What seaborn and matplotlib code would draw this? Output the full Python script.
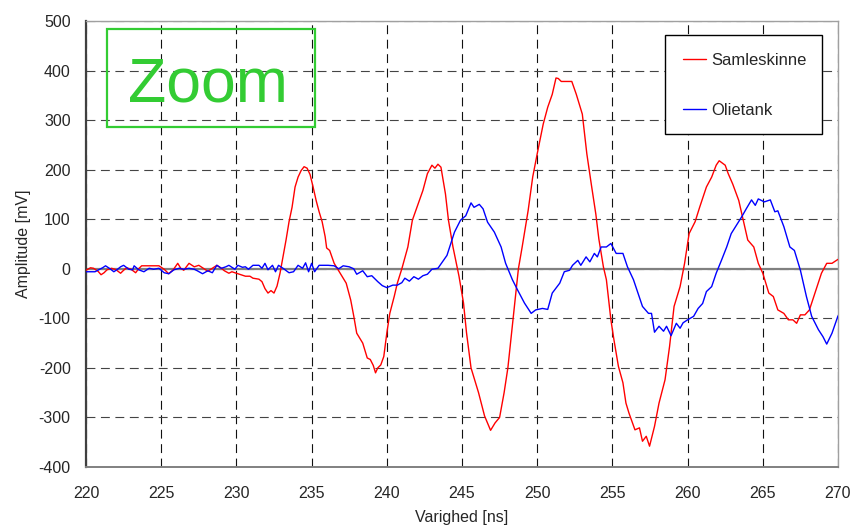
import matplotlib
matplotlib.use("Agg")
import matplotlib.pyplot as plt
import seaborn as sns
import pandas as pd
from matplotlib.patches import Rectangle

# Waveforms: time [ns] and amplitude [mV]
samleskinne_t = [220.0, 220.3, 220.5, 220.8, 221.0, 221.2, 221.4, 221.7, 222.0, 222.3, 222.5, 222.7,
                 223.0, 223.3, 223.5, 223.7, 224.1, 224.5, 224.85, 225.2, 225.5, 225.8, 226.1, 226.3,
                 226.5, 226.85, 227.2, 227.5, 227.85, 228.1, 228.4, 228.7, 229.0, 229.2, 229.5, 229.7,
                 230.0, 230.2, 230.6, 230.9, 231.1, 231.5, 231.7, 231.9, 232.1, 232.3, 232.5, 232.7,
                 232.9, 233.1, 233.3, 233.5, 233.7, 233.9, 234.1, 234.3, 234.5, 234.7, 234.9, 235.1,
                 235.3, 235.5, 235.7, 235.9, 236.0, 236.2, 236.5, 236.9, 237.3, 237.6, 237.8, 238.0,
                 238.4, 238.7, 238.9, 239.1, 239.25, 239.4, 239.6, 239.8, 240.0, 240.2, 240.5, 240.7,
                 241.0, 241.4, 241.7, 242.0, 242.4, 242.7, 243.0, 243.2, 243.4, 243.6, 243.9, 244.1,
                 244.4, 244.8, 245.1, 245.3, 245.6, 246.1, 246.5, 246.9, 247.2, 247.5, 247.8, 248.05,
                 248.4, 248.75, 249.0, 249.4, 249.7, 250.0, 250.4, 250.7, 251.0, 251.25, 251.4, 251.6,
                 252.0, 252.3, 252.6, 253.0, 253.3, 253.6, 253.9, 254.1, 254.4, 254.6, 254.9, 255.1,
                 255.4, 255.7, 255.9, 256.1, 256.5, 256.8, 257.0, 257.25, 257.47, 257.8, 258.1, 258.5,
                 258.8, 259.1, 259.5, 259.8, 260.1, 260.5, 260.8, 261.25, 261.6, 261.9, 262.1, 262.5,
                 262.7, 263.0, 263.4, 263.7, 264.0, 264.4, 264.7, 265.0, 265.4, 265.7, 266.0, 266.4,
                 266.7, 267.0, 267.25, 267.5, 267.8, 268.1, 268.5, 268.9, 269.25, 269.6, 270.0]
samleskinne_v = [-3, 2, 1, -5, -12, -8, -2, 1, -2, -9, -3, 2,
                 -1, -8, 0, 6, 6, 6, 6, -1, -10, -2, 11, 1,
                 -3, 11, 4, 7, 0, -5, 1, 7, 1, -4, -9, -6,
                 -9, -11, -15, -15, -19, -21, -26, -40, -49, -44, -49, -35,
                 -9, 25, 58, 95, 124, 165, 185, 198, 206, 203, 190, 165,
                 138, 115, 95, 65, 42, 37, 11, -9, -29, -63, -95, -130,
                 -150, -180, -183, -195, -210, -200, -194, -177, -130, -90, -55, -29,
                 0, 44, 98, 124, 158, 192, 209, 203, 211, 205, 151, 98,
                 44, -15, -69, -129, -200, -250, -297, -326, -311, -300, -250, -200,
                 -100, 0, 44, 118, 185, 232, 292, 326, 352, 385, 384, 378,
                 378, 378, 352, 312, 232, 170, 110, 60, 4, -22, -103, -143,
                 -197, -230, -271, -291, -325, -321, -348, -338, -358, -318, -271, -224,
                 -157, -76, -36, 11, 71, 95, 124, 165, 185, 209, 218, 209,
                 192, 171, 138, 98, 58, 44, 11, -9, -49, -56, -83, -90,
                 -103, -103, -110, -93, -93, -83, -46, -9, 11, 11, 19]

olietank_t = [220.0, 220.3, 220.6, 220.85, 221.1, 221.3, 221.6, 221.85, 222.1, 222.3, 222.5, 222.85,
              223.1, 223.2, 223.5, 223.85, 224.2, 224.5, 224.85, 225.2, 225.5, 225.85, 226.2, 226.5,
              226.85, 227.2, 227.4, 227.75, 228.1, 228.4, 228.7, 229.0, 229.3, 229.5, 229.9, 230.1,
              230.4, 230.6, 230.8, 231.1, 231.5, 231.7, 231.9, 232.1, 232.4, 232.6, 232.8, 233.1,
              233.5, 233.8, 234.1, 234.4, 234.6, 234.8, 235.0, 235.2, 235.5, 235.8, 236.1, 236.5,
              236.8, 237.1, 237.5, 237.8, 238.0, 238.4, 238.7, 239.0, 239.4, 239.7, 240.0, 240.4,
              240.7, 241.0, 241.2, 241.5, 241.8, 242.1, 242.4, 242.7, 243.0, 243.4, 243.7, 244.0,
              244.2, 244.5, 244.9, 245.25, 245.6, 245.8, 246.15, 246.4, 246.7, 247.15, 247.6, 247.9,
              248.35, 248.7, 249.15, 249.6, 249.9, 250.35, 250.7, 251.0, 251.5, 251.8, 252.15, 252.35,
              252.7, 252.9, 253.25, 253.5, 253.8, 254.0, 254.25, 254.6, 254.9, 255.25, 255.7, 256.0,
              256.4, 256.7, 257.0, 257.4, 257.6, 257.8, 258.1, 258.4, 258.6, 258.9, 259.25, 259.5,
              259.7, 260.0, 260.4, 260.7, 261.0, 261.25, 261.6, 261.9, 262.25, 262.6, 262.9, 263.25,
              263.6, 263.9, 264.25, 264.5, 264.7, 265.1, 265.5, 265.8, 266.0, 266.4, 266.8, 267.1,
              267.5, 267.9, 268.25, 268.7, 269.0, 269.25, 269.6, 270.0]
olietank_v = [-6, -6, -6, -2, 2, 6, 0, -6, -1, 4, 7, -1,
              -2, 6, -2, -6, 1, -1, 1, -8, -10, -2, 1, -1,
              1, -1, -4, -10, -4, -8, 7, 1, 4, 7, -1, 7,
              3, 4, -1, 7, 7, 1, 11, -2, 7, -6, 7, 1,
              -8, -6, 7, 1, 12, -6, 11, -6, 7, 7, 7, 6,
              0, 6, 4, 0, -11, -4, -16, -14, -26, -34, -38, -33,
              -33, -28, -19, -25, -16, -21, -14, -11, -1, 1, 14, 27,
              46, 74, 98, 107, 133, 124, 130, 121, 94, 74, 44, 11,
              -22, -43, -69, -90, -83, -80, -82, -49, -29, -6, -3, 7,
              17, 7, 24, 14, 31, 24, 44, 44, 51, 31, 31, 4,
              -22, -49, -76, -90, -90, -128, -116, -126, -116, -135, -110, -120,
              -109, -103, -96, -80, -70, -46, -36, -9, 17, 44, 71, 88,
              105, 121, 139, 128, 141, 135, 139, 115, 117, 85, 44, 37,
              -3, -56, -96, -123, -137, -152, -130, -95]

series_names = ["Samleskinne", "Olietank"]
series_colors = ["#ff0000", "#0000ff"]
x_ticks = list(range(220, 271, 5))
y_ticks = list(range(-400, 501, 100))

df = pd.concat([
    pd.DataFrame({"t": samleskinne_t, "v": samleskinne_v, "serie": series_names[0]}),
    pd.DataFrame({"t": olietank_t, "v": olietank_v, "serie": series_names[1]}),
], ignore_index=True)

sns.set_style("white")
plt.rcParams["font.family"] = ["Liberation Sans", "DejaVu Sans"]

W, H = 853, 528
fig = plt.figure(figsize=(W / 100, H / 100), dpi=100)
ax = fig.add_axes([86 / W, 1 - 467 / H, 752 / W, 446 / H])

sns.lineplot(data=df, x="t", y="v", hue="serie", hue_order=series_names,
             palette=dict(zip(series_names, series_colors)), estimator=None,
             sort=False, linewidth=1.0, ax=ax, zorder=3)

ax.set_xlim(220, 270)
ax.set_ylim(-400, 500)
ax.set_xticks(x_ticks)
ax.set_yticks(y_ticks)
ax.set_xticklabels([str(v) for v in x_ticks])
ax.set_yticklabels([str(v) for v in y_ticks])

# dashed grid, solid zero line
ax.xaxis.grid(True, linestyle=(0, (8, 5)), color="#111111", linewidth=0.8)
ax.yaxis.grid(True, linestyle=(0, (8, 5)), color="#444444", linewidth=0.8)
ax.set_axisbelow(True)
ax.axhline(0, color="#808080", linewidth=1.6, zorder=2)

for side, col, lw in [("left", "#404040", 1.6), ("bottom", "#808080", 1.4),
                      ("top", "#a0a0a0", 1.0), ("right", "#a0a0a0", 1.0)]:
    ax.spines[side].set_visible(True)
    ax.spines[side].set_color(col)
    ax.spines[side].set_linewidth(lw)

ax.tick_params(axis="y", direction="out", length=4, width=1, color="#404040",
               labelsize=11.5, pad=7)
ax.tick_params(axis="x", direction="in", length=4, width=1, color="#404040",
               labelsize=11.5, pad=14)

ax.set_xlabel("Varighed [ns]", fontsize=11.5)
ax.set_ylabel("Amplitude [mV]", fontsize=11.5)
ax.xaxis.set_label_coords(0.5, (467 - 510) / 446)
ax.yaxis.set_label_coords((31 - 86) / 752, 0.5)

# legend with its own white frame
handles, labels = ax.get_legend_handles_labels()
ax.add_patch(Rectangle(((665 - 86) / 752, (467 - 134) / 446), 157 / 752, 99 / 446,
                       transform=ax.transAxes, facecolor="white", edgecolor="black",
                       linewidth=1.0, zorder=4))
leg = ax.legend(handles, labels, loc="upper left",
                bbox_to_anchor=((683 - 86) / 752, (467 - 53) / 446),
                frameon=False, fontsize=12, handlelength=1.4, handletextpad=0.3,
                labelspacing=2.1, borderpad=0, borderaxespad=0)
leg.set_zorder(5)

# "Zoom" caption box
green = "#33cc33"
ax.add_patch(Rectangle(((107 - 86) / 752, (467 - 127) / 446), 208 / 752, 98 / 446,
                       transform=ax.transAxes, facecolor="none", edgecolor=green,
                       linewidth=1.6, zorder=4))
ax.text((207.5 - 86) / 752, (467 - 101.5) / 446, "Zoom", transform=ax.transAxes,
        fontsize=45, color=green, ha="center", va="baseline", zorder=5)

fig.savefig("out.png", dpi=100, facecolor="white")
